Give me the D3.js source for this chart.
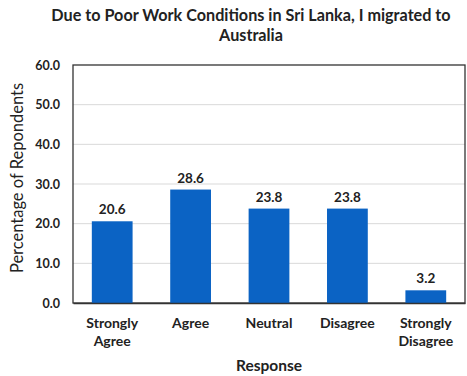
<!DOCTYPE html>
<html><head><meta charset="utf-8">
<script src="https://cdn.jsdelivr.net/npm/d3@7"></script>
<style>body{margin:0;background:#fff}svg{display:block}text{font-family:Lato,"Open Sans",sans-serif;fill:#222}</style>
</head><body><svg id="c" width="467" height="376"></svg>
<script>
const categories = ["Strongly Agree","Agree","Neutral","Disagree","Strongly Disagree"];
const labelLines = [["Strongly","Agree"],["Agree"],["Neutral"],["Disagree"],["Strongly","Disagree"]];
const values = [20.6,28.6,23.8,23.8,3.2];
const yTicks = [0,10,20,30,40,50,60];
const title = ["Due to Poor Work Conditions in Sri Lanka, I migrated to","Australia"];

const svg = d3.select("#c");
const L=73,R=465,T=65,B=303;
const x = d3.scaleBand().domain(categories).range([L,R]).paddingInner(0.48).paddingOuter(0.24);
const y = d3.scaleLinear().domain([0,60]).range([B,T]);

svg.append("g").selectAll("line").data(yTicks.filter(d=>d>0&&d<60)).join("line")
  .attr("x1",L).attr("x2",R).attr("y1",d=>y(d)).attr("y2",d=>y(d))
  .attr("stroke","#d9d9d9").attr("stroke-width",1);

svg.append("rect").attr("x",L).attr("y",T).attr("width",R-L).attr("height",B-T)
  .attr("fill","none").attr("stroke","#333").attr("stroke-width",1.3);

svg.append("g").selectAll("rect").data(values).join("rect")
  .attr("x",(d,i)=>x(categories[i])).attr("width",x.bandwidth())
  .attr("y",d=>y(d)).attr("height",d=>B-y(d)).attr("fill","#0b63c4");

svg.append("g").selectAll("text").data(values).join("text")
  .attr("x",(d,i)=>x(categories[i])+x.bandwidth()/2).attr("y",d=>y(d)-7)
  .attr("text-anchor","middle").attr("font-size",13.5).attr("font-weight","bold")
  .text(d=>d.toFixed(1));

const ya = svg.append("g").attr("transform",`translate(${L},0)`)
  .call(d3.axisLeft(y).tickValues(yTicks).tickFormat(d3.format(".1f")).tickSize(0).tickPadding(13));
ya.select(".domain").remove();
ya.selectAll("text").attr("font-size",12.5).attr("font-weight","bold").style("font-family","Lato,sans-serif").attr("fill","#222");

const xa = svg.append("g").attr("transform",`translate(0,${B})`)
  .call(d3.axisBottom(x).tickSize(0).tickFormat(""));
xa.select(".domain").attr("stroke","#333").attr("stroke-width",1.3);
const xl = svg.append("g").selectAll("text").data(categories).join("text")
  .attr("x",d=>x(d)+x.bandwidth()/2).attr("y",328)
  .attr("text-anchor","middle").attr("font-size",14).attr("font-weight","bold");
xl.each(function(d,i){
  const t=d3.select(this);
  labelLines[i].forEach((s,j)=>t.append("tspan").attr("x",x(d)+x.bandwidth()/2).attr("dy",j?18:0).text(s));
});

svg.append("text").attr("x",(L+R)/2).attr("y",371).attr("text-anchor","middle")
  .attr("font-size",15.5).attr("font-weight","bold").text("Response");

svg.append("text").attr("transform",`translate(23,${(T+B)/2-6}) rotate(-90)`)
  .attr("text-anchor","middle").attr("font-size",16.5).attr("font-weight","normal").attr("fill","#333")
  .text("Percentage of Repondents");

svg.append("g").selectAll("text").data(title).join("text")
  .attr("x",251).attr("y",(d,i)=>21+i*20).attr("text-anchor","middle")
  .attr("font-size",16.2).attr("font-weight","bold").text(d=>d);
</script></body></html>
